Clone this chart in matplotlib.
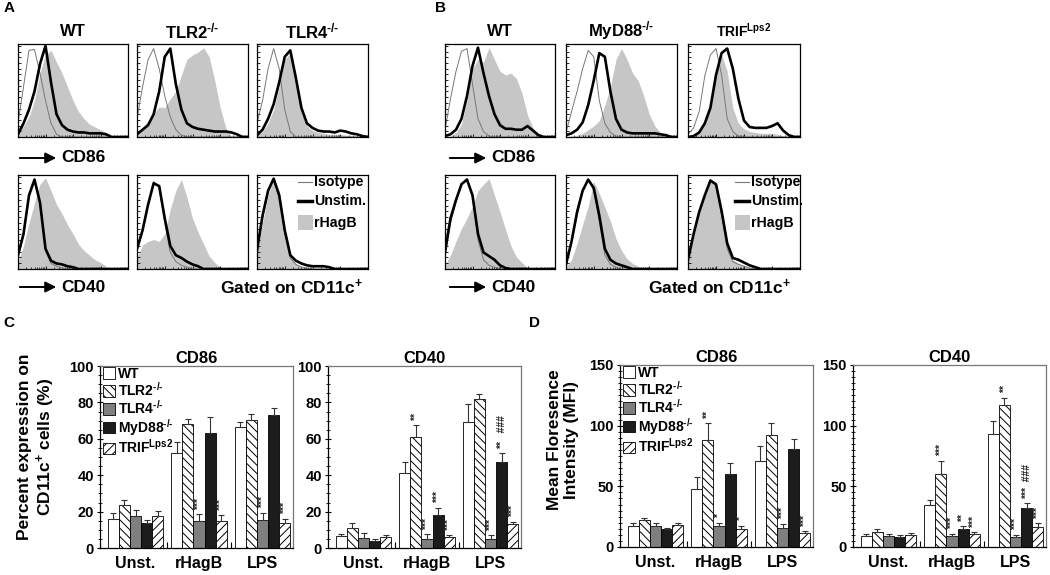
import numpy as np
import matplotlib
matplotlib.use('Agg')
import matplotlib.pyplot as plt
from matplotlib.lines import Line2D
from matplotlib.patches import Rectangle, FancyArrowPatch

plt.rcParams['font.family'] = ['Liberation Sans', 'DejaVu Sans']
plt.rcParams['font.weight'] = 'bold'
plt.rcParams['axes.titleweight'] = 'bold'
plt.rcParams['mathtext.fontset'] = 'custom'
plt.rcParams['mathtext.rm'] = 'Liberation Sans:bold'
plt.rcParams['mathtext.bf'] = 'Liberation Sans:bold'
plt.rcParams['mathtext.it'] = 'Liberation Sans:bold'
plt.rcParams['mathtext.default'] = 'bf'
plt.rcParams['hatch.linewidth'] = 0.7

# ---------------- flow histograms (x in log decades, y in % of max) ----------------
LOGX = [0.0, 0.2, 0.4, 0.6, 0.8, 1.0, 1.2, 1.4, 1.6, 1.8, 2.0,
        2.2, 2.4, 2.6, 2.8, 3.0, 3.2, 3.4, 3.6, 3.8, 4.0]

# panel A, CD86
a86_wt_iso = [15, 55, 95, 96, 70, 40, 15, 3, 0, 0, 0, 0, 0, 0, 0, 0, 0, 0, 0, 0, 0]
a86_wt_uns = [3, 15, 30, 50, 80, 100, 60, 25, 13, 8, 6, 5, 5, 4, 4, 4, 3, 0, 0, 0, 0]
a86_wt_rhb = [5, 12, 22, 40, 70, 90, 95, 82, 70, 55, 40, 28, 20, 14, 11, 8, 5, 2, 0, 0, 0]
a86_tlr2_iso = [20, 55, 85, 97, 75, 45, 22, 8, 2, 0, 0, 0, 0, 0, 0, 0, 0, 0, 0, 0, 0]
a86_tlr2_uns = [3, 8, 13, 25, 50, 88, 97, 58, 30, 15, 11, 9, 8, 7, 6, 6, 6, 5, 3, 0, 0]
a86_tlr2_rhb = [5, 10, 18, 26, 33, 32, 42, 50, 68, 85, 90, 93, 98, 88, 62, 32, 10, 0, 0, 0, 0]
a86_tlr4_iso = [15, 40, 75, 97, 75, 30, 6, 0, 0, 0, 0, 0, 0, 0, 0, 0, 0, 0, 0, 0, 0]
a86_tlr4_uns = [2, 8, 20, 36, 60, 88, 95, 65, 32, 15, 10, 7, 6, 6, 5, 7, 6, 4, 3, 1, 0]
a86_tlr4_rhb = [2, 6, 15, 30, 55, 85, 92, 60, 28, 12, 7, 5, 4, 3, 3, 3, 2, 1, 0, 0, 0]
# panel A, CD40
a40_wt_iso = [13, 36, 78, 98, 74, 20, 6, 3, 1, 0, 0, 0, 0, 0, 0, 0, 0, 0, 0, 0, 0]
a40_wt_uns = [15, 38, 80, 97, 72, 22, 9, 6, 5, 3, 2, 0, 0, 0, 0, 0, 0, 0, 0, 0, 0]
a40_wt_rhb = [8, 25, 50, 72, 92, 99, 85, 70, 60, 48, 38, 27, 20, 15, 10, 7, 3, 0, 0, 0, 0]
a40_tlr2_iso = [20, 40, 70, 95, 88, 50, 18, 8, 4, 2, 0, 0, 0, 0, 0, 0, 0, 0, 0, 0, 0]
a40_tlr2_uns = [22, 42, 70, 93, 90, 55, 25, 15, 12, 8, 5, 3, 0, 0, 0, 0, 0, 0, 0, 0, 0]
a40_tlr2_rhb = [12, 26, 30, 32, 30, 38, 65, 85, 97, 78, 55, 40, 27, 14, 7, 2, 0, 0, 0, 0, 0]
a40_tlr4_iso = [18, 55, 83, 98, 78, 40, 12, 5, 2, 1, 0, 0, 0, 0, 0, 0, 0, 0, 0, 0, 0]
a40_tlr4_uns = [20, 58, 85, 98, 80, 42, 15, 9, 6, 4, 3, 3, 3, 2, 0, 0, 0, 0, 0, 0, 0]
a40_tlr4_rhb = [16, 50, 80, 97, 85, 45, 13, 6, 3, 2, 1, 0, 0, 0, 0, 0, 0, 0, 0, 0, 0]
# panel B, CD86
b86_wt_iso = [8, 42, 72, 94, 97, 58, 20, 6, 1, 0, 0, 0, 0, 0, 0, 0, 0, 0, 0, 0, 0]
b86_wt_uns = [1, 3, 8, 20, 45, 78, 98, 70, 45, 25, 13, 9, 9, 8, 8, 12, 7, 2, 0, 0, 0]
b86_wt_rhb = [0, 1, 5, 14, 40, 75, 85, 82, 98, 85, 72, 68, 70, 64, 48, 24, 10, 3, 0, 0, 0]
b86_myd_iso = [5, 28, 50, 75, 95, 88, 40, 15, 5, 1, 0, 0, 0, 0, 0, 0, 0, 0, 0, 0, 0]
b86_myd_uns = [2, 4, 8, 16, 35, 62, 92, 88, 50, 20, 8, 5, 4, 4, 4, 4, 4, 3, 2, 0, 0]
b86_myd_rhb = [0, 1, 2, 4, 8, 12, 18, 35, 55, 85, 97, 85, 70, 62, 45, 25, 12, 5, 1, 0, 0]
b86_trif_iso = [3, 10, 28, 67, 90, 97, 68, 20, 6, 1, 0, 0, 0, 0, 0, 0, 0, 0, 0, 0, 0]
b86_trif_uns = [0, 1, 5, 15, 32, 68, 92, 97, 75, 42, 18, 11, 10, 10, 10, 12, 15, 7, 2, 0, 0]
b86_trif_rhb = [0, 2, 8, 18, 35, 75, 90, 72, 32, 15, 9, 6, 5, 4, 4, 4, 3, 1, 0, 0, 0]
# panel B, CD40
b40_wt_iso = [15, 50, 72, 92, 98, 78, 32, 10, 4, 2, 0, 0, 0, 0, 0, 0, 0, 0, 0, 0, 0]
b40_wt_uns = [18, 55, 75, 92, 97, 80, 38, 18, 14, 10, 4, 1, 0, 0, 0, 0, 0, 0, 0, 0, 0]
b40_wt_rhb = [4, 15, 30, 44, 55, 68, 85, 92, 98, 80, 62, 43, 25, 13, 7, 1, 0, 0, 0, 0, 0]
b40_myd_iso = [5, 28, 58, 84, 97, 85, 52, 15, 5, 2, 0, 0, 0, 0, 0, 0, 0, 0, 0, 0, 0]
b40_myd_uns = [5, 30, 62, 85, 97, 88, 58, 22, 10, 6, 4, 2, 0, 0, 0, 0, 0, 0, 0, 0, 0]
b40_myd_rhb = [2, 10, 28, 48, 68, 95, 82, 67, 52, 33, 20, 11, 6, 3, 0, 0, 0, 0, 0, 0, 0]
b40_trif_iso = [10, 36, 60, 80, 97, 90, 58, 22, 8, 5, 3, 1, 0, 0, 0, 0, 0, 0, 0, 0, 0]
b40_trif_uns = [10, 38, 62, 80, 96, 92, 63, 28, 12, 10, 7, 4, 2, 0, 0, 0, 0, 0, 0, 0, 0]
b40_trif_rhb = [8, 35, 60, 80, 96, 92, 60, 25, 10, 6, 4, 2, 1, 0, 0, 0, 0, 0, 0, 0, 0]

# ---------------- bar charts (rows = genotype, cols = Unst., rHagB, LPS) ----------------
KO = '$^{\u2010/\u2010}$'
STIMS = ['Unst.', 'rHagB', 'LPS']
LABELS = ['WT', 'TLR2' + KO, 'TLR4' + KO, 'MyD88' + KO, 'TRIF$^{Lps2}$']

c86_mean = [[16, 52, 66.5], [23.5, 68, 70.5], [17.5, 15, 15.5], [14, 63, 73], [17.5, 15, 14]]
c86_err = [[3, 6, 3], [3, 3, 3], [3.5, 3.5, 4], [1.5, 9, 4], [3, 3, 2]]
c86_sig = [['', '', ''], ['', '', ''], ['', '***', '***'], ['', '', ''], ['', '***', '***']]

c40_mean = [[6.5, 41, 69], [11, 61, 82], [5.5, 5, 5], [4, 18, 47], [6, 6, 13]]
c40_err = [[1, 6, 10], [2.5, 6.5, 2.5], [2.5, 2.5, 2], [1, 4, 5], [1, 1, 1.5]]
c40_sig = [['', '', ''], ['', '**', ''], ['', '***', '***'], ['', '***', '**   ###'], ['', '***', '***']]

d86_mean = [[17, 48, 71], [22, 88, 92], [17, 17, 16], [15, 60, 81], [18, 14.5, 11.5]]
d86_err = [[3, 10, 12], [2, 14, 10], [3, 3, 3], [1, 9, 8], [2, 3, 1.5]]
d86_sig = [['', '', ''], ['', '**', ''], ['', '*', '***'], ['', '', ''], ['', '*', '***']]

d40_mean = [[9, 34.5, 93], [12, 60, 117], [9, 9, 8], [8.5, 15, 32.5], [9.5, 10.5, 16.5]]
d40_err = [[1.5, 4, 11], [3, 11, 6], [2, 2, 2], [1.5, 2, 3.5], [2, 1.5, 3]]
d40_sig = [['', '', ''], ['', '***', '**'], ['', '***', '***'], ['', '**', '***  ###'], ['', '***', '***']]

FILLS = ['white', 'white', '#7f7f7f', '#1c1c1c', 'white']
HATCHES = ['', '\\\\\\\\', '', '', '////']

W, H = 1050, 575
fig = plt.figure(figsize=(10.5, 5.75), dpi=100)


def box(x0, y0, x1, y1):
    return fig.add_axes([x0 / W, 1 - y1 / H, (x1 - x0) / W, (y1 - y0) / H])


def ftext(x, y, s, **kw):
    fig.text(x / W, 1 - y / H, s, **kw)


def flow(x0, x1, y0, y1, iso, uns, rhb):
    ax = box(x0, y0, x1, y1)
    ax.fill_between(LOGX, rhb, 0, color='#c6c6c6', lw=0)
    ax.plot(LOGX, iso, color='#777777', lw=0.7)
    ax.plot(LOGX, uns, color='black', lw=1.9)
    ax.set_xlim(0, 4)
    ax.set_ylim(0, 102)
    minor = [d + np.log10(k) for d in range(4) for k in range(2, 10)]
    ax.set_xticks(range(5))
    ax.set_xticks(minor, minor=True)
    ax.set_yticks(np.linspace(0, 100, 17))
    ax.tick_params(direction='in', length=2.5, width=0.6, labelbottom=False, labelleft=False)
    ax.tick_params(which='minor', direction='in', length=1.5, width=0.5)
    for s in ax.spines.values():
        s.set_linewidth(0.9)
    return ax


def arrow(x0, x1, y, label):
    fig.add_artist(FancyArrowPatch((x0 / W, 1 - y / H), (x1 / W, 1 - y / H),
                                   transform=fig.transFigure, arrowstyle='-|>',
                                   mutation_scale=16, lw=1.4, color='black'))
    ftext(x1 + 2, y, label, fontsize=12.5, va='center', ha='left')


def legend_box(x, y):
    fig.add_artist(Line2D([x / W, (x + 14) / W], [1 - y / H, 1 - y / H],
                          transform=fig.transFigure, color='#777777', lw=0.8))
    ftext(x + 16, y, 'Isotype', fontsize=10.2, va='center')
    fig.add_artist(Line2D([x / W, (x + 14) / W], [1 - (y + 19) / H, 1 - (y + 19) / H],
                          transform=fig.transFigure, color='black', lw=2.5))
    ftext(x + 16, y + 19, 'Unstim.', fontsize=10.2, va='center')
    fig.add_artist(Rectangle((x / W, 1 - (y + 48) / H), 15 / W, 15 / H,
                             transform=fig.transFigure, color='#c6c6c6', lw=0))
    ftext(x + 16, y + 41, 'rHagB', fontsize=10.2, va='center')


def bars(rect, mean, err, sig, ymax, step, mstep, title, legend=False):
    ax = box(*rect)
    x = np.arange(len(STIMS))
    w = 0.175
    for i in range(5):
        pos = x + (i - 2) * w
        ax.bar(pos, mean[i], w, color=FILLS[i], edgecolor='black', hatch=HATCHES[i],
               lw=0.6, label=LABELS[i], zorder=2)
        ax.errorbar(pos, mean[i], yerr=[np.zeros(3), err[i]], fmt='none', ecolor='#333333',
                    elinewidth=0.8, capsize=2, capthick=0.8, zorder=3)
        for j in range(3):
            if sig[i][j]:
                ax.text(pos[j], mean[i][j] + err[i][j] + ymax * 0.025, sig[i][j], rotation=90,
                        ha='center', va='bottom', fontsize=7.5, color='#222222')
    ax.set_xlim(-0.56, 2.48)
    ax.set_ylim(0, ymax)
    ax.set_xticks(x)
    ax.set_xticklabels(STIMS, fontsize=11.5)
    ax.set_xticks([0.5, 1.5], minor=True)
    ax.tick_params(axis='x', length=0, pad=6)
    ax.tick_params(axis='x', which='minor', direction='in', length=4, width=0.8)
    ax.set_yticks(np.arange(0, ymax + 1, step))
    ax.set_yticks(np.arange(0, ymax + 1, mstep), minor=True)
    ax.tick_params(axis='y', direction='inout', length=5, width=0.8, labelsize=10.5, pad=2)
    ax.tick_params(axis='y', which='minor', direction='inout', length=3, width=0.6)
    for k, s in ax.spines.items():
        s.set_linewidth(0.9)
        s.set_color('black' if k in ('left', 'bottom') else '#777777')
    ax.set_title(title, fontsize=12, pad=2)
    if legend:
        ax.legend(loc='upper left', bbox_to_anchor=(0.0, 1.01), frameon=False, fontsize=10,
                  handlelength=0.9, handleheight=0.9, handletextpad=0.2, labelspacing=0.0,
                  borderaxespad=0.1, borderpad=0.1)
    return ax


# ---------------- panel A ----------------
ax_cols = [(18, 128), (137, 248), (257, 368)]
tops = [a86_wt_iso, a86_wt_uns, a86_wt_rhb], [a86_tlr2_iso, a86_tlr2_uns, a86_tlr2_rhb], \
       [a86_tlr4_iso, a86_tlr4_uns, a86_tlr4_rhb]
bots = [a40_wt_iso, a40_wt_uns, a40_wt_rhb], [a40_tlr2_iso, a40_tlr2_uns, a40_tlr2_rhb], \
       [a40_tlr4_iso, a40_tlr4_uns, a40_tlr4_rhb]
for (x0, x1), t, b in zip(ax_cols, tops, bots):
    flow(x0, x1, 44, 137, *t)
    flow(x0, x1, 175, 269, *b)
for (x0, x1), name in zip(ax_cols, ['WT', 'TLR2' + KO, 'TLR4' + KO]):
    ftext((x0 + x1) / 2, 31, name, fontsize=12, ha='center', va='center')

# ---------------- panel B ----------------
bx_cols = [(445, 555), (566, 677), (688, 800)]
tops = [b86_wt_iso, b86_wt_uns, b86_wt_rhb], [b86_myd_iso, b86_myd_uns, b86_myd_rhb], \
       [b86_trif_iso, b86_trif_uns, b86_trif_rhb]
bots = [b40_wt_iso, b40_wt_uns, b40_wt_rhb], [b40_myd_iso, b40_myd_uns, b40_myd_rhb], \
       [b40_trif_iso, b40_trif_uns, b40_trif_rhb]
for (x0, x1), t, b in zip(bx_cols, tops, bots):
    flow(x0, x1, 44, 137, *t)
    flow(x0, x1, 175, 269, *b)
for (x0, x1), name, fs in zip(bx_cols, ['WT', 'MyD88' + KO, 'TRIF$^{Lps2}$'], [12, 12, 10]):
    ftext((x0 + x1) / 2, 31, name, fontsize=fs, ha='center', va='center')

for xa in (17, 447):
    arrow(xa, xa + 42, 158, 'CD86')
    arrow(xa, xa + 42, 287, 'CD40')
ftext(363, 287, 'Gated on CD11c$^{+}$', fontsize=12.5, ha='right', va='center')
ftext(791, 287, 'Gated on CD11c$^{+}$', fontsize=12.5, ha='right', va='center')
legend_box(298, 182)
legend_box(735, 182)

# ---------------- panels C and D ----------------
bars((100, 366, 293, 548), c86_mean, c86_err, c86_sig, 100, 20, 5, 'CD86', legend=True)
bars((328, 366, 521, 548), c40_mean, c40_err, c40_sig, 100, 20, 5, 'CD40')
bars((620, 365, 813, 547), d86_mean, d86_err, d86_sig, 150, 50, 5, 'CD86', legend=True)
bars((853, 365, 1046, 547), d40_mean, d40_err, d40_sig, 150, 50, 5, 'CD40')

ftext(37, 447, 'Percent expression on\nCD11c$^{+}$ cells (%)', fontsize=12.5, rotation=90,
      ha='center', va='center', multialignment='center', linespacing=1.15)
ftext(563, 440, 'Mean Floresence\nIntensity (MFI)', fontsize=12.5, rotation=90,
      ha='center', va='center', multialignment='center', linespacing=1.15)

for lx, ly, s in [(9, 8, 'A'), (441, 8, 'B'), (9, 323, 'C'), (535, 323, 'D')]:
    ftext(lx, ly, s, fontsize=11, ha='center', va='center')

fig.savefig('out.png', dpi=100, facecolor='white')
